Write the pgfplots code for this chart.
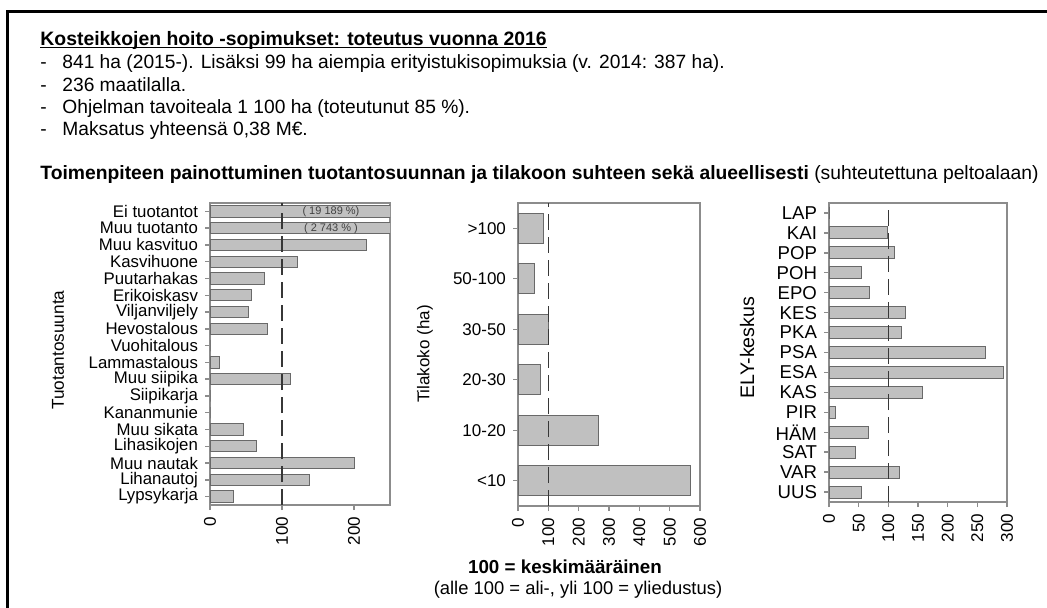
\documentclass[border=0pt]{standalone}
\usepackage{pgfplots}
\pgfplotsset{compat=1.18}
\usepackage{fontspec}
\setmainfont{Liberation Sans}
\definecolor{barfill}{RGB}{192,192,192}
\definecolor{baredge}{RGB}{105,105,105}
\definecolor{boxgray}{RGB}{140,140,140}
\definecolor{refline}{RGB}{55,55,55}
\newcommand{\fsz}[1]{\fontsize{#1pt}{#1pt}\selectfont}

\pgfplotsset{
  panel/.style={
    scale only axis, anchor=south west,
    axis line style={boxgray, line width=0.7pt},
    tick style={boxgray, line width=0.7pt},
    tick align=outside, tick pos=left,
    major tick length=2.5pt,
    xmin=0,
    /pgf/number format/assume math mode=true,
    xticklabel style={rotate=90, anchor=east, font=\fsz{8.5}},
  },
  bars/.style={xbar, bar width=#1, fill=barfill, draw=baredge, line width=0.5pt, bar shift=0pt},
}
\tikzset{refdash/.style={refline, line width=0.8pt, dash pattern=on 8pt off 3.5pt}}

\begin{document}
\begin{tikzpicture}
\path[use as bounding box] (0,0) rectangle (523.5pt,-304pt);
% frame of the slide
\draw[line width=1.5pt] (3.75pt,-304pt) -- (3.75pt,-6pt) -- (523.5pt,-6pt);

% heading text
\node[anchor=mid west, inner sep=0pt] (ttl) at (20pt,-20pt) {\fsz{9.7}\bfseries Kosteikkojen hoito -sopimukset: toteutus vuonna 2016};
\draw[line width=0.6pt] ([yshift=-1.3pt]ttl.base west) -- ([yshift=-1.3pt]ttl.base east);
\foreach \yy/\tt in {-31.5/{841 ha (2015-). Lisäksi 99 ha aiempia erityistukisopimuksia (v. 2014: 387 ha).},
                     -43/{236 maatilalla.},
                     -54/{Ohjelman tavoiteala 1 100 ha (toteutunut 85 \%).},
                     -65/{Maksatus yhteensä 0,38 M€.}}{
  \node[anchor=mid west, inner sep=0pt] at (20pt,\yy pt) {\fsz{9.6}-};
  \node[anchor=mid west, inner sep=0pt] at (31pt,\yy pt) {\fsz{9.6}\tt};
}
\node[anchor=mid west, inner sep=0pt] at (20pt,-87pt) {\fsz{9.65}\textbf{Toimenpiteen painottuminen tuotantosuunnan ja tilakoon suhteen sekä alueellisesti} (suhteutettuna peltoalaan)};

% panel 1: production type
\begin{axis}[panel,
  at={(105pt,-252.5pt)}, width=90pt, height=151pt,
  xmax=250, xtick={0,100,200},
  ymin=-0.5, ymax=17.5, ytick={0,...,17},
  yticklabels={Lypsykarja,Lihanautoj,Muu nautak,Lihasikojen,Muu sikata,Kananmunie,Siipikarja,Muu siipika,Lammastalous,Vuohitalous,Hevostalous,Viljanviljely,Erikoiskasv,Puutarhakas,Kasvihuone,Muu kasvituo,Muu tuotanto,Ei tuotantot},
  yticklabel style={font=\fsz{8.4}},
]
\addplot[bars=0.68] coordinates {(32,0) (138,1) (200,2) (64,3) (46,4) (0,5) (0,6) (112,7) (13,8) (0,9) (80,10) (54,11) (57,12) (75,13) (122,14) (218,15) (2743,16) (19189,17)};
\draw[refdash] (axis cs:100,-0.5) -- (axis cs:100,17.5);
\node[font=\fsz{5.5}, text=black!75] at (axis cs:168,17) {( 19 189 \%)};
\node[font=\fsz{5.5}, text=black!75] at (axis cs:168,16) {( 2 743 \% )};
\end{axis}
\node[rotate=90, font=\fsz{8.6}] at (29pt,-175pt) {Tuotantosuunta};

% panel 2: farm size
\begin{axis}[panel,
  at={(259pt,-253pt)}, width=91pt, height=151.5pt,
  xmax=600, xtick={0,100,...,600},
  ymin=-0.5, ymax=5.5, ytick={0,...,5},
  yticklabels={<10,10-20,20-30,30-50,50-100,>100},
  yticklabel style={font=\fsz{8.5}},
]
\addplot[bars=0.6] coordinates {(568,0) (266,1) (73,2) (102,3) (53,4) (85,5)};
\draw[refdash] (axis cs:100,-0.5) -- (axis cs:100,5.5);
\end{axis}
\node[rotate=90, font=\fsz{8.5}] at (212.5pt,-177pt) {Tilakoko (ha)};

% panel 3: ELY centre
\begin{axis}[panel,
  at={(414.5pt,-251pt)}, width=89pt, height=149.5pt,
  xmax=300, xtick={0,50,...,300},
  ymin=-0.5, ymax=14.5, ytick={0,...,14},
  yticklabels={UUS,VAR,SAT,HÄM,PIR,KAS,ESA,PSA,PKA,KES,EPO,POH,POP,KAI,LAP},
  yticklabel style={font=\fsz{9.3}},
]
\addplot[bars=0.6] coordinates {(55,0) (119,1) (44,2) (67,3) (11,4) (157,5) (294,6) (264,7) (122,8) (129,9) (68,10) (55,11) (110,12) (98.5,13) (0,14)};
\draw[refdash] (axis cs:100,-0.5) -- (axis cs:100,14.5);
\end{axis}
\node[rotate=90, font=\fsz{9.8}] at (373.5pt,-173.75pt) {ELY-keskus};

% note below
\node[font=\fsz{9.4}\bfseries] at (282.5pt,-283.5pt) {100 = keskimääräinen};
\node[font=\fsz{9.2}] at (289pt,-295pt) {(alle 100 = ali-, yli 100 = yliedustus)};
\end{tikzpicture}
\end{document}
